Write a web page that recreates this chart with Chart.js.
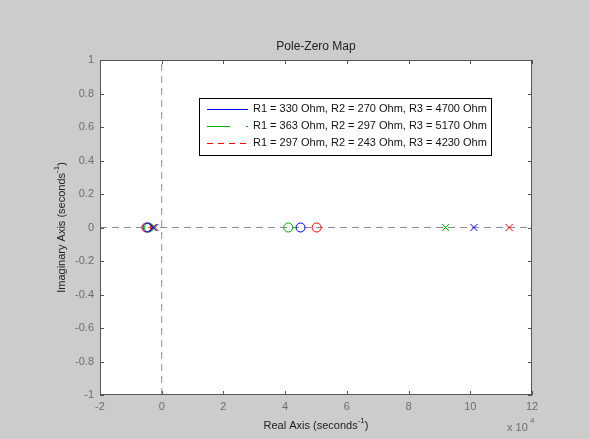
<!DOCTYPE html>
<html>
<head>
<meta charset="utf-8">
<script src="https://cdn.jsdelivr.net/npm/chart.js@4.4.0/dist/chart.umd.min.js"></script>
<style>
  html, body { margin: 0; padding: 0; background: #cccccc; }
  #wrap { width: 589px; height: 439px; position: relative; }
</style>
</head>
<body>
<div id="wrap"><canvas id="pz"></canvas></div>
<script>
// data, real axis in units of 1e4
let seriesNames = [
  "R1 = 330 Ohm, R2 = 270 Ohm, R3 = 4700 Ohm",
  "R1 = 363 Ohm, R2 = 297 Ohm, R3 = 5170 Ohm",
  "R1 = 297 Ohm, R2 = 243 Ohm, R3 = 4230 Ohm"
];
let seriesColors = ["#0000ff", "#00b000", "#ff0000"];
let zerosReal = [[-0.46, 4.50], [-0.42, 4.10], [-0.50, 5.02]];
let polesReal = [[-0.28, 10.12], [-0.26, 9.20], [-0.22, 11.26]];
let xTicks = [-2, 0, 2, 4, 6, 8, 10, 12];
let yTicks = [-1, -0.8, -0.6, -0.4, -0.2, 0, 0.2, 0.4, 0.6, 0.8, 1];

const FONT = "'Liberation Sans', Arial, Helvetica, sans-serif";

let datasets = [];
// dashed axis lines through the origin
datasets.push({
  data: [{x: -2, y: 0}, {x: 12, y: 0}],
  showLine: true, borderColor: "#8c8c8c", borderWidth: 1,
  borderDash: [7, 5], pointRadius: 0, order: 10
});
datasets.push({
  data: [{x: 0, y: -1}, {x: 0, y: 1}],
  showLine: true, borderColor: "#8c8c8c", borderWidth: 1,
  borderDash: [7, 5], pointRadius: 0, order: 10
});
seriesNames.forEach((name, i) => {
  datasets.push({
    label: name + " zeros",
    data: zerosReal[i].map(v => ({x: v, y: 0})),
    showLine: false, pointStyle: "circle", pointRadius: 4.5,
    borderColor: seriesColors[i], backgroundColor: "rgba(0,0,0,0)",
    pointBorderWidth: 1, order: 1
  });
  datasets.push({
    label: name + " poles",
    data: polesReal[i].map(v => ({x: v, y: 0})),
    showLine: false, pointStyle: "crossRot", pointRadius: 5,
    borderColor: seriesColors[i], pointBorderWidth: 1, order: 1
  });
});

// box, inward ticks, titles, legend
const decor = {
  id: "decor",
  beforeDraw(chart) {
    const a = chart.chartArea, c = chart.ctx;
    c.save();
    c.fillStyle = "#ffffff";
    c.fillRect(a.left, a.top, a.right - a.left, a.bottom - a.top);
    c.restore();
  },
  afterDraw(chart) {
    const a = chart.chartArea, c = chart.ctx;
    const xs = chart.scales.x, ys = chart.scales.y;
    c.save();
    c.strokeStyle = "#555555";
    c.lineWidth = 1;
    c.strokeRect(a.left + 0.5, a.top + 0.5, a.right - a.left - 1, a.bottom - a.top - 1);
    c.beginPath();
    xTicks.forEach(v => {
      let p = Math.round(xs.getPixelForValue(v)) + 0.5;
      c.moveTo(p, a.bottom); c.lineTo(p, a.bottom - 4);
      c.moveTo(p, a.top); c.lineTo(p, a.top + 4);
    });
    yTicks.forEach(v => {
      let p = Math.round(ys.getPixelForValue(v)) + 0.5;
      c.moveTo(a.left, p); c.lineTo(a.left + 4, p);
      c.moveTo(a.right, p); c.lineTo(a.right - 4, p);
    });
    c.stroke();

    // title
    c.fillStyle = "#222222";
    c.font = "12px " + FONT;
    c.textAlign = "center"; c.textBaseline = "middle";
    c.fillText("Pole-Zero Map", (a.left + a.right) / 2, 47);

    // axis labels with superscript
    function supLabel(main, sup, tail, cx, cy) {
      c.font = "11px " + FONT;
      let w1 = c.measureText(main).width, w3 = c.measureText(tail).width;
      c.font = "8px " + FONT;
      let w2 = c.measureText(sup).width;
      let x0 = cx - (w1 + w2 + w3) / 2;
      c.textAlign = "left";
      c.font = "11px " + FONT;
      c.fillText(main, x0, cy);
      c.font = "8px " + FONT;
      c.fillText(sup, x0 + w1, cy - 5);
      c.font = "11px " + FONT;
      c.fillText(tail, x0 + w1 + w2, cy);
    }
    c.fillStyle = "#222222";
    supLabel("Real Axis (seconds", "-1", ")", (a.left + a.right) / 2, 426);
    c.save();
    c.translate(62, (a.top + a.bottom) / 2);
    c.rotate(-Math.PI / 2);
    supLabel("Imaginary Axis (seconds", "-1", ")", 0, 0);
    c.restore();

    // exponent
    c.fillStyle = "#6e6e6e";
    c.textAlign = "left";
    c.font = "11px " + FONT;
    c.fillText("x 10", 507, 428);
    c.font = "8px " + FONT;
    c.fillText("4", 530, 421);

    // legend
    let lx = 199, ly = 98, lw = 292, lh = 57;
    c.fillStyle = "#ffffff";
    c.fillRect(lx, ly, lw, lh);
    c.strokeStyle = "#000000";
    c.strokeRect(lx + 0.5, ly + 0.5, lw, lh);
    let dashes = [[], [23, 16], [6, 5]];
    let rows = [109, 126, 143];
    seriesNames.forEach((name, i) => {
      c.beginPath();
      c.setLineDash(dashes[i]);
      c.strokeStyle = seriesColors[i];
      c.moveTo(207, rows[i] + 0.5); c.lineTo(248, rows[i] + 0.5);
      c.stroke();
      c.setLineDash([]);
      c.fillStyle = "#111111";
      c.font = "11px " + FONT;
      c.textAlign = "left"; c.textBaseline = "middle";
      c.fillText(name, 253, rows[i]);
    });
    c.restore();
  }
};

new Chart(document.getElementById("pz"), {
  type: "scatter",
  data: { datasets: datasets },
  plugins: [decor],
  options: {
    responsive: true,
    maintainAspectRatio: false,
    animation: false,
    layout: { padding: { top: 60, right: 57, left: 0, bottom: 0 } },
    plugins: { legend: { display: false }, tooltip: { enabled: false }, title: { display: false } },
    scales: {
      x: {
        type: "linear", min: -2, max: 12,
        afterBuildTicks: s => { s.ticks = xTicks.map(v => ({value: v})); },
        afterFit: s => { s.height = 44; },
        grid: { display: false, drawTicks: false },
        border: { display: false },
        ticks: { padding: 5, color: "#6e6e6e", font: { family: FONT, size: 11 }, maxRotation: 0 }
      },
      y: {
        type: "linear", min: -1, max: 1,
        afterBuildTicks: s => { s.ticks = yTicks.map(v => ({value: v})); },
        afterFit: s => { s.width = 100; },
        grid: { display: false, drawTicks: false },
        border: { display: false },
        ticks: { padding: 6, color: "#6e6e6e", font: { family: FONT, size: 11 },
                 callback: v => String(Math.round(v * 10) / 10) }
      }
    }
  }
});
</script>
</body>
</html>
